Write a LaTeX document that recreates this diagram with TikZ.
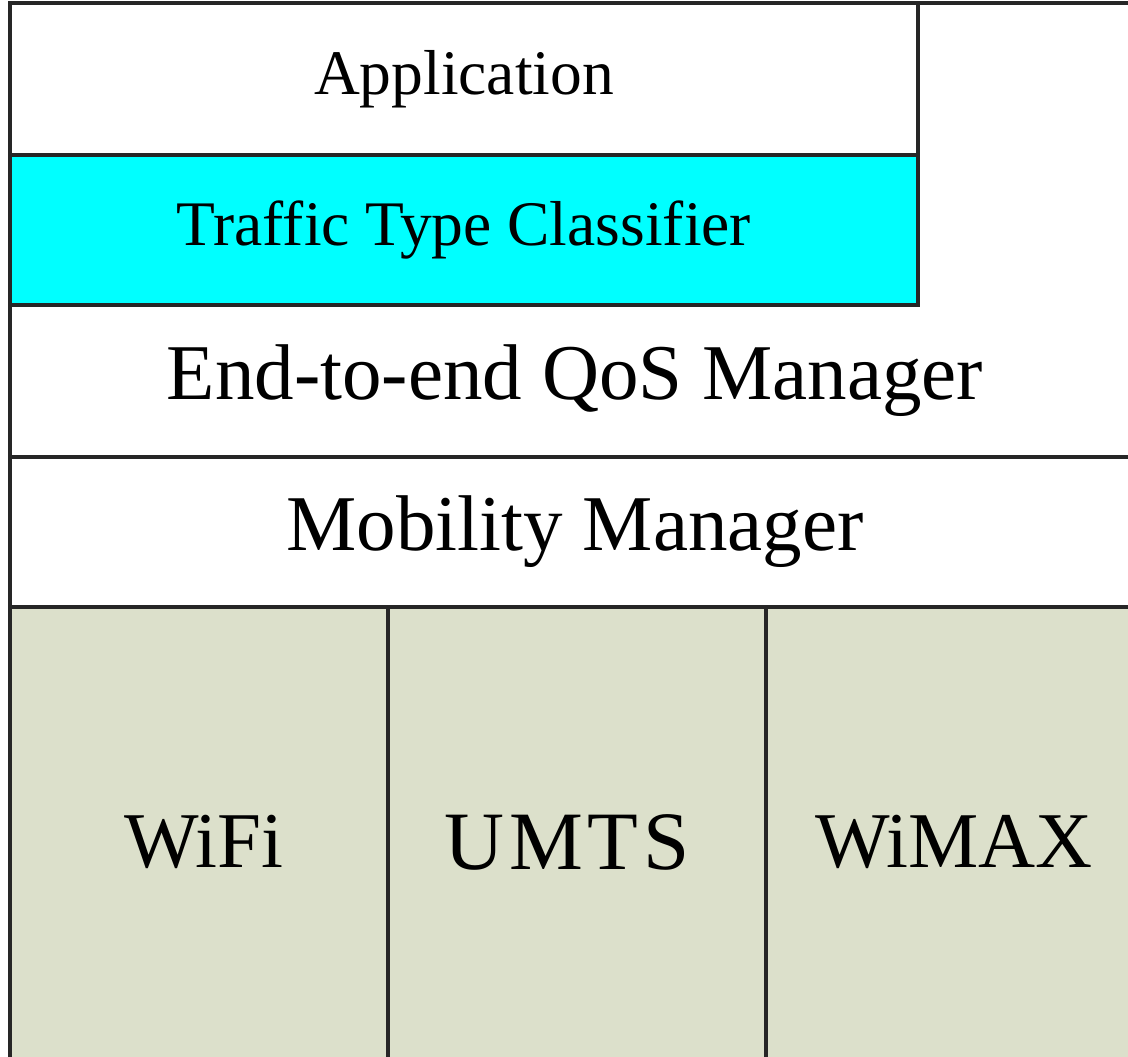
\documentclass[tikz,border=0pt]{standalone}
\usepackage{fontspec}
\setmainfont{Liberation Serif}
\definecolor{layerline}{HTML}{262626}
\definecolor{radiofill}{HTML}{DCE0CB}
\definecolor{classcyan}{HTML}{00FFFF}
\begin{document}
\begin{tikzpicture}[x=1pt,y=-1pt,
  frameline/.style={draw=layerline, line width=3.2pt},
  layer/.style={frameline, rectangle, inner sep=0pt, outer sep=0pt, anchor=north west, text=black},
  midtext/.style={font=\fontsize{63.5}{70}\selectfont},
  bigtext/.style={font=\fontsize{79}{88}\selectfont}]
  % page frame; the right and lower layers run past it
  \clip (0,0) rectangle (1128,1057);
  \fill[white] (0,0) rectangle (1128,1057);

  % radio access technologies
  \node[layer, fill=radiofill, minimum width=378pt, minimum height=470pt, bigtext] (wifi) at (10,607) {\kern10pt WiFi};
  \node[layer, fill=radiofill, minimum width=378pt, minimum height=470pt,
        font=\fontsize{83}{90}\selectfont] (umts) at (388,607)
    {\addfontfeature{LetterSpace=6}UMTS\kern20pt};
  \node[layer, fill=radiofill, minimum width=382pt, minimum height=470pt, bigtext] (wimax) at (766,607) {WiMAX\kern6pt};

  % managers spanning the full width
  \node[layer, fill=white, minimum width=1130pt, minimum height=150pt, bigtext] (mob) at (10,457) {Mobility Manager};
  \node[layer, draw=none, minimum width=1130pt, minimum height=152pt, bigtext] (qos) at (10,305) {End-to-end QoS Manager};

  % outer frame: top edge and left edge
  \coordinate (topright) at (1140,3);
  \draw[frameline] (qos.north west |- topright) -- (topright);
  \draw[frameline] (qos.north west) -- (qos.south west);

  % upper layers
  \node[layer, fill=classcyan, minimum width=908pt, minimum height=150pt, midtext] (ttc) at (10,155) {Traffic Type Classifier};
  \node[layer, fill=white, minimum width=908pt, minimum height=152pt, midtext] (app) at (10,3) {Application};
\end{tikzpicture}
\end{document}
